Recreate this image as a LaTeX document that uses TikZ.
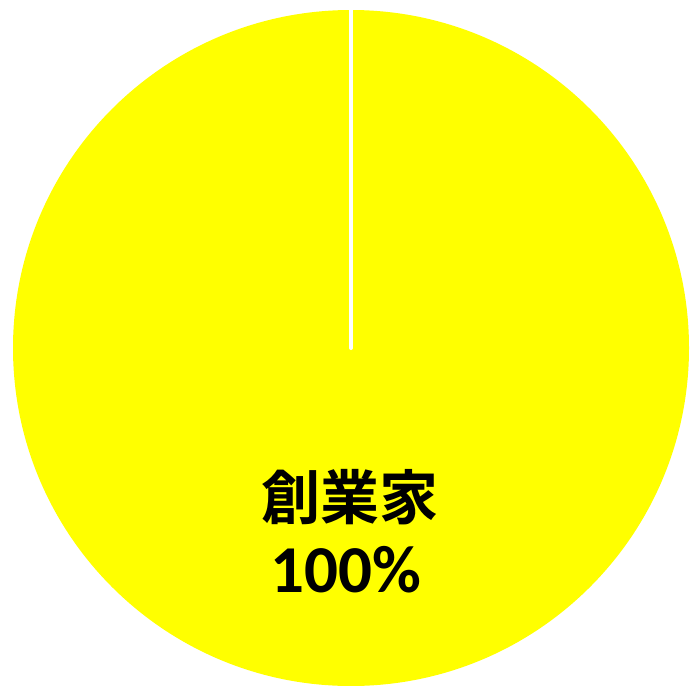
\documentclass[tikz,border=0pt]{standalone}
\usepackage{fontspec}
\setmainfont{Carlito}
\newfontfamily\cjk{Noto Sans CJK JP}[BoldFont={* Bold}]
\usepackage{tikz}
\usetikzlibrary{positioning}

\definecolor{pieyellow}{RGB}{255,255,0}

\begin{document}
\begin{tikzpicture}[x=1bp,y=-1bp,
    slice/.style={fill=pieyellow,draw=none},
    divider/.style={draw=white,line width=4bp,line cap=round},
    pielabel/.style={inner sep=0pt,text=black,font=\bfseries}]
  \useasboundingbox (0,0) rectangle (690,686);

  \coordinate (centre) at (351,348);
  \coordinate (top) at (351,6);

  % the single slice
  \fill [slice] (centre) circle [radius=338];
  \draw [divider] (top) -- (centre);

  \node [pielabel] (owner) at (350,497) {\cjk\bfseries\fontsize{59bp}{60bp}\selectfont 創業家};
  \node [pielabel] (share) at (346,570) {\fontsize{67bp}{68bp}\selectfont 100\%};
\end{tikzpicture}
\end{document}
